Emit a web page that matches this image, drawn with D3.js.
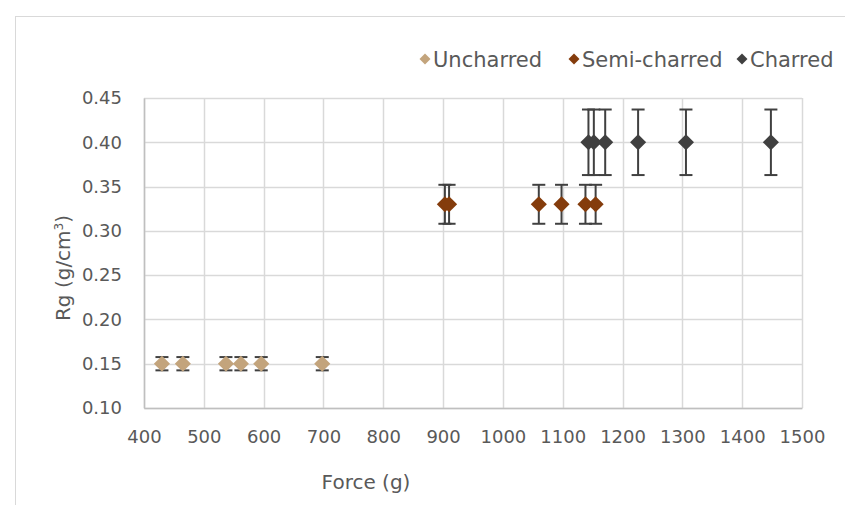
<!DOCTYPE html>
<html>
<head>
<meta charset="utf-8">
<script src="https://cdn.jsdelivr.net/npm/d3@7"></script>
<style>
  body { margin: 0; background: #fff; }
  text { font-family: "DejaVu Sans", sans-serif; fill: #595959; }
</style>
</head>
<body>
<svg id="chart" width="845" height="505"></svg>
<script>
// data
const seriesNames = ['Uncharred', 'Semi-charred', 'Charred'];
const seriesColors = ['#c3a47c', '#843c0c', '#404040'];

const uncharredForce = [430, 465, 537, 562, 596, 698];
const uncharredRg = [0.15, 0.15, 0.15, 0.15, 0.15, 0.15];
const uncharredErr = 0.0075;

const semiForce = [903, 910, 1060, 1098, 1138, 1155];
const semiRg = [0.33, 0.33, 0.33, 0.33, 0.33, 0.33];
const semiErr = 0.022;

const charredForce = [1143, 1152, 1171, 1226, 1306, 1448];
const charredRg = [0.40, 0.40, 0.40, 0.40, 0.40, 0.40];
const charredErr = 0.037;

const xTicks = [400, 500, 600, 700, 800, 900, 1000, 1100, 1200, 1300, 1400, 1500];
const yTicks = [0.10, 0.15, 0.20, 0.25, 0.30, 0.35, 0.40, 0.45];

const series = [
  { name: seriesNames[0], color: seriesColors[0], x: uncharredForce, y: uncharredRg, err: uncharredErr },
  { name: seriesNames[1], color: seriesColors[1], x: semiForce, y: semiRg, err: semiErr },
  { name: seriesNames[2], color: seriesColors[2], x: charredForce, y: charredRg, err: charredErr }
];

const svg = d3.select('#chart');

// chart area border
svg.append('rect')
  .attr('x', 15.5).attr('y', 16.5)
  .attr('width', 860).attr('height', 520)
  .attr('fill', 'none')
  .attr('stroke', '#d9d9d9');

const x = d3.scaleLinear().domain([400, 1500]).range([144, 802]);
const y = d3.scaleLinear().domain([0.10, 0.45]).range([408, 98]);

// gridlines
const grid = svg.append('g');
grid.selectAll('.vg').data(xTicks).join('line')
  .attr('x1', d => Math.round(x(d)) + 0.5).attr('x2', d => Math.round(x(d)) + 0.5)
  .attr('y1', y(0.45)).attr('y2', y(0.10))
  .attr('stroke', '#d9d9d9').attr('stroke-width', 1.5);
grid.selectAll('.hg').data(yTicks).join('line')
  .attr('x1', x(400)).attr('x2', x(1500))
  .attr('y1', d => Math.round(y(d)) + 0.5).attr('y2', d => Math.round(y(d)) + 0.5)
  .attr('stroke', '#d9d9d9').attr('stroke-width', 1.5);

// axes (labels only, lines are the grid)
const xAxis = svg.append('g')
  .attr('transform', `translate(0,${y(0.10)})`)
  .call(d3.axisBottom(x).tickValues(xTicks).tickSize(0).tickPadding(22).tickFormat(d3.format('d')));
xAxis.select('.domain').attr('stroke', '#bfbfbf').attr('stroke-width', 1.5);
xAxis.selectAll('text').style('font-size', '18px').attr('fill', '#595959');

const yAxis = svg.append('g')
  .attr('transform', `translate(${x(400)},0)`)
  .call(d3.axisLeft(y).tickValues(yTicks).tickSize(0).tickPadding(22).tickFormat(d3.format('.2f')));
yAxis.select('.domain').attr('stroke', '#bfbfbf').attr('stroke-width', 1.5);
yAxis.selectAll('text').style('font-size', '18px').attr('fill', '#595959');

// axis titles
svg.append('text')
  .attr('x', 366).attr('y', 489)
  .attr('text-anchor', 'middle')
  .style('font-size', '20px')
  .text('Force (g)');

const yTitle = svg.append('text')
  .attr('transform', 'translate(70,268) rotate(-90)')
  .attr('text-anchor', 'middle')
  .style('font-size', '20px');
yTitle.append('tspan').text('Rg (g/cm');
yTitle.append('tspan').attr('baseline-shift', 'super').style('font-size', '12px').text('3');
yTitle.append('tspan').text(')');

const diamond = d3.symbol().type(d3.symbolSquare).size(130);

// error bars and markers
series.forEach(s => {
  const pts = s.x.map((v, i) => ({ fx: v, ry: s.y[i] }));
  const g = svg.append('g');
  const eb = g.selectAll('g.eb').data(pts).join('g');
  eb.append('line')
    .attr('x1', d => x(d.fx)).attr('x2', d => x(d.fx))
    .attr('y1', d => y(d.ry - s.err)).attr('y2', d => y(d.ry + s.err));
  eb.append('line')
    .attr('x1', d => x(d.fx) - 6.5).attr('x2', d => x(d.fx) + 6.5)
    .attr('y1', d => y(d.ry + s.err)).attr('y2', d => y(d.ry + s.err));
  eb.append('line')
    .attr('x1', d => x(d.fx) - 6.5).attr('x2', d => x(d.fx) + 6.5)
    .attr('y1', d => y(d.ry - s.err)).attr('y2', d => y(d.ry - s.err));
  eb.selectAll('line').attr('stroke', '#404040').attr('stroke-width', 2);

  g.selectAll('path').data(pts).join('path')
    .attr('d', diamond)
    .attr('transform', d => `translate(${x(d.fx)},${y(d.ry)}) rotate(45)`)
    .attr('fill', s.color);
});

// legend
const legendX = [425, 574, 742];
const legend = svg.append('g');
series.forEach((s, i) => {
  legend.append('path')
    .attr('d', d3.symbol().type(d3.symbolSquare).size(60))
    .attr('transform', `translate(${legendX[i]},59) rotate(45)`)
    .attr('fill', s.color);
  legend.append('text')
    .attr('x', legendX[i] + 8).attr('y', 66.5)
    .style('font-size', '21px')
    .text(s.name);
});
</script>
</body>
</html>
